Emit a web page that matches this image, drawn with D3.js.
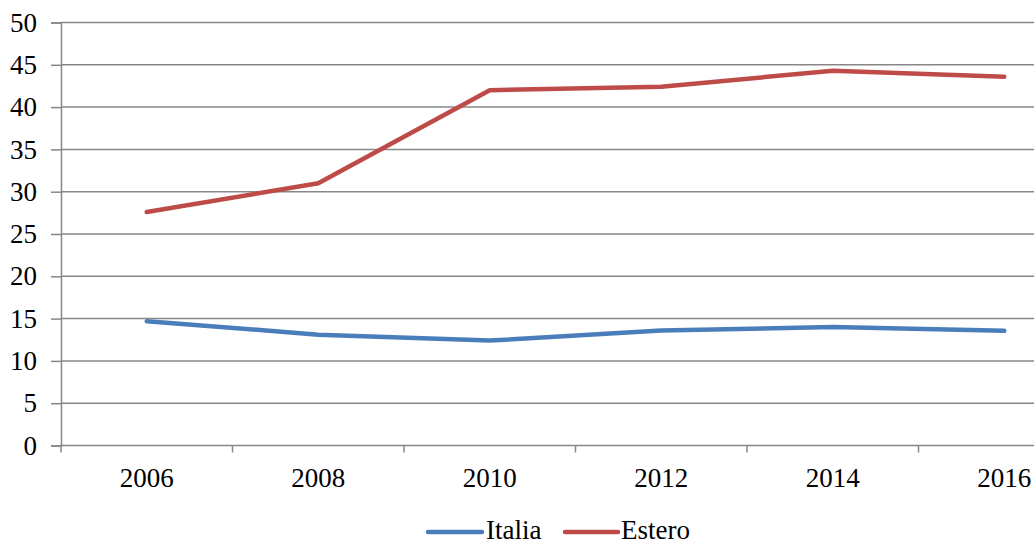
<!DOCTYPE html>
<html>
<head>
<meta charset="utf-8">
<script src="https://cdn.jsdelivr.net/npm/d3@7"></script>
<style>
  html, body { margin: 0; padding: 0; background: #fff; overflow: hidden; }
  svg { display: block; }
  svg text { font-family: "Liberation Serif", "Times New Roman", Times, serif !important; fill: #000; }
</style>
</head>
<body>
<svg id="chart" width="1034" height="541"></svg>
<script>
// Years on the category axis
const years = ["2006", "2008", "2010", "2012", "2014", "2016"];
// Series values
const italia = [14.7, 13.1, 12.4, 13.6, 14.0, 13.55];
const estero = [27.6, 31.0, 42.0, 42.4, 44.3, 43.6];
// Value axis ticks
const yTicks = [0, 5, 10, 15, 20, 25, 30, 35, 40, 45, 50];
// Legend entries
const seriesNames = ["Italia", "Estero"];

const colors = { Italia: "#4A7EBB", Estero: "#BE4B48" };
const gridColor = "#878787";
const fontSize = 27;

const svg = d3.select("#chart");

const plot = { left: 61, top: 22.5, bottom: 445.5, right: 61 + 6 * 171.5 };

const x = d3.scaleBand().domain(years).range([plot.left, plot.right]).padding(0);
const y = d3.scaleLinear().domain([0, 50]).range([plot.bottom, plot.top]);

// Value axis with small outward ticks
const yAxis = d3.axisLeft(y).tickValues(yTicks).tickSize(10).tickPadding(14).tickFormat(d3.format("d"));
const gy = svg.append("g").attr("transform", `translate(${plot.left},0)`).call(yAxis);
gy.attr("font-family", null).attr("font-size", null);
gy.select(".domain").attr("stroke", gridColor).attr("stroke-width", 1.5);
gy.selectAll(".tick line").attr("stroke", gridColor).attr("stroke-width", 1.5);
gy.selectAll(".tick text").attr("font-size", fontSize).attr("fill", "#000");

// Horizontal gridlines
svg.append("g").selectAll("line").data(yTicks).join("line")
  .attr("x1", plot.left).attr("x2", plot.right)
  .attr("y1", d => y(d)).attr("y2", d => y(d))
  .attr("stroke", gridColor).attr("stroke-width", 1.5);

// Category axis: ticks sit between categories
const boundaries = years.map(d => x(d)).concat([x(years[years.length - 1]) + x.bandwidth()]);
const gx = svg.append("g");
gx.selectAll("line").data(boundaries).join("line")
  .attr("x1", d => d).attr("x2", d => d)
  .attr("y1", plot.bottom).attr("y2", plot.bottom + 7)
  .attr("stroke", gridColor).attr("stroke-width", 1.5);
gx.selectAll("text").data(years).join("text")
  .attr("x", d => x(d) + x.bandwidth() / 2)
  .attr("y", 487)
  .attr("text-anchor", "middle")
  .attr("font-size", fontSize)
  .text(d => d);

// Series lines
const line = d3.line()
  .x((d, i) => x(years[i]) + x.bandwidth() / 2)
  .y(d => y(d));

[["Italia", italia], ["Estero", estero]].forEach(([name, vals]) => {
  svg.append("path")
    .datum(vals)
    .attr("d", line)
    .attr("fill", "none")
    .attr("stroke", colors[name])
    .attr("stroke-width", 4.5)
    .attr("stroke-linejoin", "round")
    .attr("stroke-linecap", "round");
});

// Legend
const legendPos = [{ x1: 428, x2: 482, tx: 486 }, { x1: 565, x2: 618, tx: 621 }];
const legend = svg.append("g");
seriesNames.forEach((name, i) => {
  const p = legendPos[i];
  legend.append("line")
    .attr("x1", p.x1).attr("x2", p.x2)
    .attr("y1", 532).attr("y2", 532)
    .attr("stroke", colors[name]).attr("stroke-width", 4.5)
    .attr("stroke-linecap", "round");
  legend.append("text")
    .attr("x", p.tx).attr("y", 539)
    .attr("font-size", fontSize)
    .text(name);
});
</script>
</body>
</html>
